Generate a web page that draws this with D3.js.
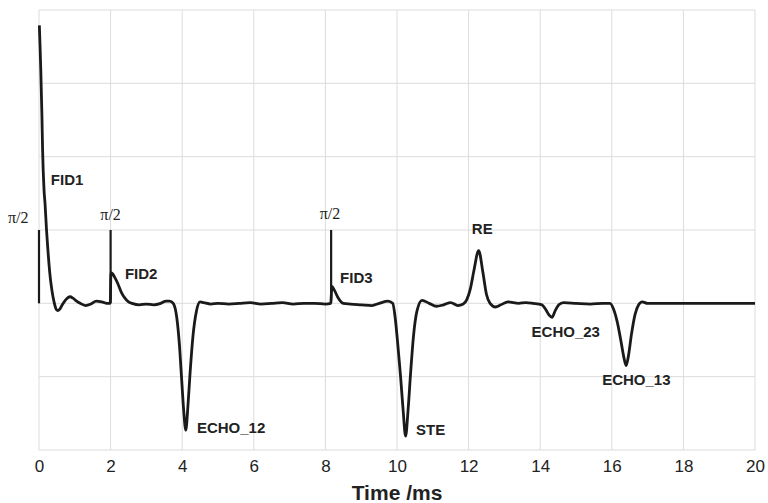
<!DOCTYPE html>
<html lang="en">
<head>
	<meta charset="UTF-8">
	<title>Echo train</title>
	<script src="https://cdnjs.cloudflare.com/ajax/libs/d3/7.8.5/d3.min.js"></script>
	<style>
		body { margin: 0; background: #fff; }
		svg { display: block; }
	</style>
</head>
<body>
	<svg id="chart"></svg>
	<script>
// time in ms, amplitude in arbitrary units (baseline = 0)
var timeMs = [0.01, 0.03, 0.05, 0.08, 0.1, 0.14, 0.17, 0.21, 0.25, 0.3, 0.36, 0.42, 0.47, 0.52, 0.58, 0.65, 0.75, 0.87, 0.95, 1.05,
  1.15, 1.3, 1.45, 1.6, 1.75, 1.9, 1.99, 2.01, 2.06, 2.12, 2.2, 2.3, 2.4, 2.5, 2.6, 2.8, 3.0, 3.2, 3.4, 3.55,
  3.65, 3.75, 3.85, 3.92, 3.98, 4.04, 4.1, 4.16, 4.22, 4.3, 4.4, 4.5, 4.6, 4.8, 5.0, 5.3, 5.6, 5.9, 6.2, 6.5,
  6.8, 7.1, 7.4, 7.7, 8.0, 8.15, 8.18, 8.25, 8.35, 8.5, 8.7, 9.0, 9.3, 9.5, 9.75, 9.88, 9.95, 10.02, 10.1, 10.17,
  10.24, 10.31, 10.38, 10.46, 10.56, 10.7, 10.9, 11.1, 11.3, 11.5, 11.7, 11.85, 11.95, 12.05, 12.15, 12.28, 12.4, 12.5, 12.6, 12.75,
  12.9, 13.1, 13.4, 13.6, 13.8, 14.05, 14.15, 14.25, 14.33, 14.42, 14.52, 14.65, 15.0, 15.4, 15.75, 15.95, 16.05, 16.15, 16.25, 16.33,
  16.4, 16.47, 16.55, 16.65, 16.75, 16.85, 17.0, 17.5, 18.0, 18.5, 19.0, 19.5, 20.0]
var amplitude = [3.79, 3.5, 3.18, 2.6, 2.1, 1.55, 1.35, 1.0, 0.72, 0.42, 0.18, 0.02, -0.07, -0.1, -0.08, -0.02, 0.05, 0.09, 0.07, 0.03,
  0.0, -0.03, -0.01, 0.03, 0.02, 0.0, 0.0, 0.42, 0.40, 0.35, 0.27, 0.15, 0.07, 0.02, 0.0, -0.02, -0.01, -0.02, 0.0, 0.03,
  0.03, 0.0, -0.2, -0.55, -1.0, -1.45, -1.73, -1.4, -0.95, -0.45, -0.1, 0.02, 0.01, -0.01, 0.0, -0.01, 0.0, 0.01, -0.01, 0.0,
  0.01, -0.01, 0.0, 0.0, -0.01, 0.0, 0.23, 0.18, 0.08, 0.0, -0.01, -0.02, -0.03, 0.0, 0.03, 0.0, -0.2, -0.55, -1.0, -1.45,
  -1.81, -1.45, -0.95, -0.45, -0.1, 0.04, 0.0, -0.04, -0.02, 0.01, -0.03, -0.01, 0.05, 0.2, 0.45, 0.72, 0.42, 0.12, 0.0, -0.05,
  -0.02, 0.02, 0.0, 0.01, 0.0, -0.02, -0.08, -0.16, -0.19, -0.1, -0.02, 0.01, 0.0, -0.01, 0.0, 0.0, -0.08, -0.25, -0.5, -0.72,
  -0.85, -0.7, -0.42, -0.15, -0.02, 0.02, 0.0, 0.0, 0.0, 0.0, 0.0, 0.0, 0.0]

// pi/2 pulses
var pulseTimes = [0, 2.0, 8.16]
var pulseHeight = 1.0
var pulseLabelX = [-0.58, 2.0, 8.13]
var pulseLabelY = [1.1, 1.13, 1.15]

// peak annotations
var peakNames = ["FID1", "FID2", "ECHO_12", "FID3", "RE", "STE", "ECHO_23", "ECHO_13"]
var peakLabelX = [0.33, 2.4, 4.41, 8.41, 12.09, 10.53, 13.76, 15.73]
var peakLabelY = [1.61, 0.33, -1.77, 0.28, 0.94, -1.8, -0.46, -1.11]

var xTicks = [0, 2, 4, 6, 8, 10, 12, 14, 16, 18, 20]
var yGrid = [-2, -1, 0, 1, 2, 3, 4]

var W = 768, H = 503

var svg = d3.select("#chart")
  .attr("width", W)
  .attr("height", H)

var x = d3.scaleLinear().domain([0, 20]).range([39, 755])
var y = d3.scaleLinear().domain([-2, 4]).range([450, 10])

// grid
svg.append("g").selectAll("line")
  .data(xTicks).enter()
  .append("line")
  .attr("x1", function(d) { return x(d) })
  .attr("x2", function(d) { return x(d) })
  .attr("y1", y(-2))
  .attr("y2", y(4))
  .attr("stroke", "#dcdcdc")
  .attr("stroke-width", 1)

svg.append("g").selectAll("line")
  .data(yGrid).enter()
  .append("line")
  .attr("x1", x(0))
  .attr("x2", x(20))
  .attr("y1", function(d) { return y(d) })
  .attr("y2", function(d) { return y(d) })
  .attr("stroke", "#dcdcdc")
  .attr("stroke-width", 1)

// x axis labels
var xAxis = d3.axisBottom(x)
  .tickValues(xTicks)
  .tickSize(0)
  .tickPadding(10)
  .tickFormat(d3.format("d"))

var gx = svg.append("g")
  .attr("transform", "translate(0," + y(-2) + ")")
  .call(xAxis)
gx.select(".domain").remove()
gx.selectAll("text")
  .attr("font-family", "'Liberation Sans', Arial, sans-serif")
  .attr("font-size", 17)
  .attr("fill", "#222")

svg.append("text")
  .attr("x", (x(0) + x(20)) / 2)
  .attr("y", 500)
  .attr("text-anchor", "middle")
  .attr("font-family", "'Liberation Sans', Arial, sans-serif")
  .attr("font-weight", "bold")
  .attr("font-size", 21)
  .attr("fill", "#222")
  .text("Time /ms")

// pulses
svg.append("g").selectAll("line")
  .data(pulseTimes).enter()
  .append("line")
  .attr("x1", function(d) { return x(d) })
  .attr("x2", function(d) { return x(d) })
  .attr("y1", y(0))
  .attr("y2", y(pulseHeight))
  .attr("stroke", "#1a1a1a")
  .attr("stroke-width", 2.2)

// signal
var pts = timeMs.map(function(t, i) { return [t, amplitude[i]] })
var line = d3.line()
  .x(function(d) { return x(d[0]) })
  .y(function(d) { return y(d[1]) })
  .curve(d3.curveMonotoneX)

svg.append("path")
  .datum(pts)
  .attr("d", line)
  .attr("fill", "none")
  .attr("stroke", "#1a1a1a")
  .attr("stroke-width", 2.8)
  .attr("stroke-linejoin", "round")

// pulse labels
svg.append("g").selectAll("text")
  .data(pulseTimes).enter()
  .append("text")
  .attr("x", function(d, i) { return x(pulseLabelX[i]) })
  .attr("y", function(d, i) { return y(pulseLabelY[i]) })
  .attr("text-anchor", "middle")
  .attr("font-family", "'Liberation Serif', 'Times New Roman', serif")
  .attr("font-size", 16)
  .attr("fill", "#222")
  .text("\u03c0/2")

// peak labels
svg.append("g").selectAll("text")
  .data(peakNames).enter()
  .append("text")
  .attr("x", function(d, i) { return x(peakLabelX[i]) })
  .attr("y", function(d, i) { return y(peakLabelY[i]) })
  .attr("font-family", "'Liberation Sans', Arial, sans-serif")
  .attr("font-weight", "bold")
  .attr("font-size", 15)
  .attr("fill", "#222")
  .text(function(d) { return d })
	</script>
</body>
</html>
